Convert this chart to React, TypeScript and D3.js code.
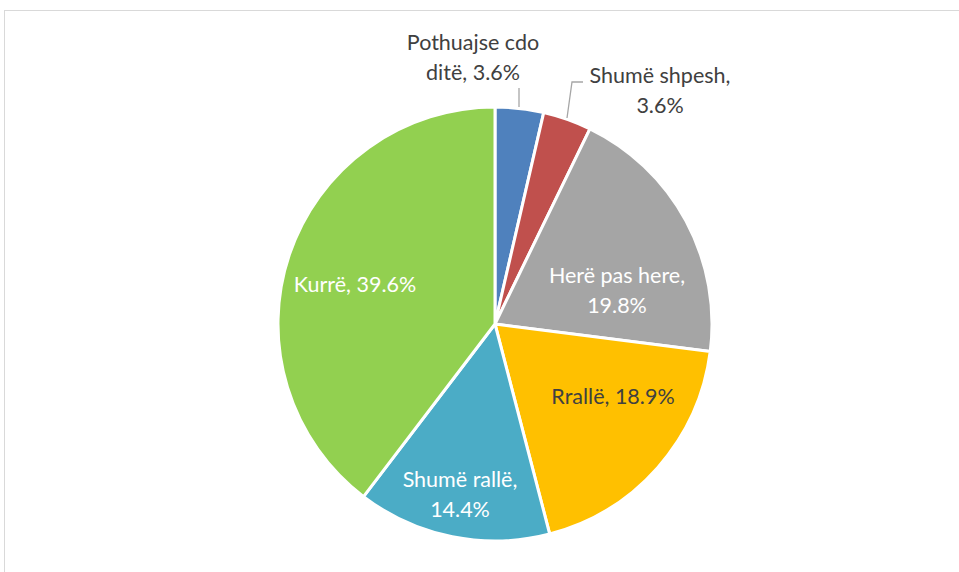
import React from "react";
import * as d3 from "d3";

const categories = ["Pothuajse cdo ditë", "Shumë shpesh", "Herë pas here", "Rrallë", "Shumë rallë", "Kurrë"];
const values = [3.6, 3.6, 19.8, 18.9, 14.4, 39.6];
const colors = ["#4f81bd", "#c0504d", "#a5a5a5", "#ffc000", "#4bacc6", "#92d050"];
const labelLines = [
  ["Pothuajse cdo", "ditë, 3.6%"],
  ["Shumë shpesh,", "3.6%"],
  ["Herë pas here,", "19.8%"],
  ["Rrallë, 18.9%"],
  ["Shumë rallë,", "14.4%"],
  ["Kurrë, 39.6%"],
];
const labelColors = ["#404040", "#404040", "#ffffff", "#404040", "#ffffff", "#ffffff"];
const labelPos: [number, number][] = [
  [473, 50],
  [660, 83],
  [617, 283],
  [613, 404],
  [460, 487],
  [355, 292],
];

export default function App() {
  const W = 959, H = 572;
  const cx = 495, cy = 324, r = 217;
  const pie = d3.pie<number>().sort(null).value((d) => d)(values);
  const arc = d3.arc<d3.PieArcDatum<number>>().innerRadius(0).outerRadius(r);
  return (
    <svg width={W} height={H} style={{ position: "absolute", left: 0, top: 0 }}>
      <rect x={0} y={0} width={W} height={H} fill="#fff" />
      <rect x={4.5} y={10.5} width={W} height={H} fill="none" stroke="#d9d9d9" />
      <g transform={`translate(${cx},${cy})`}>
        {pie.map((p, i) => (
          <path key={categories[i]} d={arc(p) || ""} fill={colors[i]} stroke="#fff" strokeWidth={3} strokeLinejoin="round" />
        ))}
      </g>
      <polyline points="519,88 519,107" fill="none" stroke="#a6a6a6" strokeWidth={1.3} />
      <polyline points="583,82 572,82 567,118" fill="none" stroke="#a6a6a6" strokeWidth={1.3} />
      {labelLines.map((lines, i) => (
        <text key={i} fontFamily="Lato, 'Open Sans', sans-serif" fontSize={21.5} fill={labelColors[i]} textAnchor="middle">
          {lines.map((l, j) => (
            <tspan key={j} x={labelPos[i][0]} y={labelPos[i][1] + j * 29.5}>{l}</tspan>
          ))}
        </text>
      ))}
    </svg>
  );
}
